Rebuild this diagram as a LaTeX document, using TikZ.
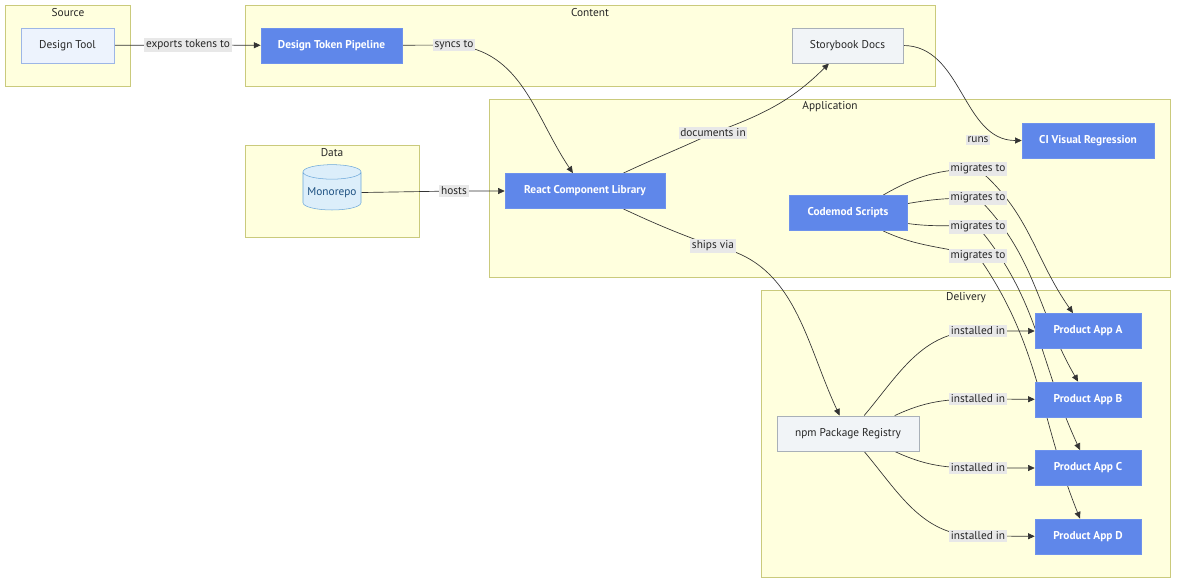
\documentclass[tikz,border=0pt]{standalone}
\usepackage{fontspec}
\setmainfont{PT Sans}
\usepackage{tikz}
\usetikzlibrary{shapes.geometric,arrows.meta}

\definecolor{clusterfill}{HTML}{FFFFDE}
\definecolor{clusterline}{HTML}{CACA7C}
\definecolor{bluefill}{HTML}{5F87EA}
\definecolor{blueline}{HTML}{6E92EC}
\definecolor{lightfill}{HTML}{EDF3FD}
\definecolor{lightline}{HTML}{9DB6E6}
\definecolor{greyfill}{HTML}{F1F4F7}
\definecolor{greyline}{HTML}{A9B0B8}
\definecolor{dbfill}{HTML}{DCEEFA}
\definecolor{dbline}{HTML}{6DA8DA}
\definecolor{dbtext}{HTML}{1B4F80}
\definecolor{labelbg}{HTML}{E8E8E8}
\definecolor{edgecol}{HTML}{333333}

\pgfdeclarelayer{back}
\pgfdeclarelayer{edges}
\pgfsetlayers{back,edges,main}

\begin{document}
\begin{tikzpicture}[x = 0.75pt, y = -0.75pt,
                    font = \fontsize{8.5}{10}\selectfont,
                    cluster/.style = {draw = clusterline, fill = clusterfill, line width = 0.6pt},
                    title/.style = {text = black!85},
                    bluebox/.style = {rectangle, draw = blueline, fill = bluefill, text = white,
                                      font = \fontsize{8.5}{10}\selectfont\bfseries, minimum height = 26.5pt},
                    lightbox/.style = {rectangle, draw = lightline, fill = lightfill, text = black!85, minimum height = 26.5pt},
                    greybox/.style = {rectangle, draw = greyline, fill = greyfill, text = black!85, minimum height = 26.5pt},
                    db/.style = {cylinder, shape border rotate = 90, aspect = 0.25, draw = dbline, fill = dbfill,
                                 text = dbtext, minimum width = 42pt, minimum height = 34pt},
                    lbl/.style = {fill = labelbg, text = black!85, inner sep = 1.3pt},
                    edge/.style = {draw = edgecol, line width = 0.5pt, -{Triangle[length = 5pt, width = 4.5pt]}}]

\useasboundingbox (0,0) rectangle (1184,587);

% clusters
\begin{pgfonlayer}{back}
\draw[cluster] (5,5) rectangle (130,86);
\draw[cluster] (245,5) rectangle (935,86);
\draw[cluster] (245,145) rectangle (419,237);
\draw[cluster] (489,99) rectangle (1170,277);
\draw[cluster] (761,290) rectangle (1170,577);
\end{pgfonlayer}

\node[title] (tSource) at (68,13) {Source};
\node[title] (tContent) at (590,13) {Content};
\node[title] (tData) at (332,153) {Data};
\node[title] (tApplication) at (830,107) {Application};
\node[title] (tDelivery) at (966,298) {Delivery};

% tools and docs
\node[lightbox, minimum width = 70pt] (tool) at (67.5,45.5) {Design Tool};
\node[bluebox, minimum width = 106pt] (pipe) at (331.5,45.5) {Design Token Pipeline};
\node[greybox, minimum width = 83pt] (story) at (847.5,45.5) {Storybook Docs};
\node[db] (repo) at (332,193) {Monorepo};

% application
\node[bluebox, minimum width = 120pt] (react) at (585,191) {React Component Library};
\node[bluebox, minimum width = 99pt] (ci) at (1088,140.5) {CI Visual Regression};
\node[bluebox, minimum width = 88.5pt] (cod) at (848,213) {Codemod Scripts};

% delivery
\node[greybox, minimum width = 106.5pt] (npm) at (848,433.5) {npm Package Registry};
\node[bluebox, minimum width = 79.5pt] (appA) at (1088,331) {Product App A};
\node[bluebox, minimum width = 79.5pt] (appB) at (1088,399.5) {Product App B};
\node[bluebox, minimum width = 79.5pt] (appC) at (1088,468) {Product App C};
\node[bluebox, minimum width = 79.5pt] (appD) at (1088,536.5) {Product App D};

% edge labels
\node[lbl] (exp) at (188,45) {exports tokens to};
\node[lbl] (syn) at (454,45) {syncs to};
\node[lbl] (hosts) at (454,191) {hosts};
\node[lbl] (doc) at (713,133) {documents in};
\node[lbl] (ship) at (713,246) {ships via};
\node[lbl] (runs) at (978,140) {runs};
\node[lbl] (m1) at (978,169) {migrates to};
\node[lbl] (m2) at (978,198) {migrates to};
\node[lbl] (m3) at (978,227) {migrates to};
\node[lbl] (m4) at (978,256) {migrates to};
\node[lbl] (i1) at (978,331) {installed in};
\node[lbl] (i2) at (978,399) {installed in};
\node[lbl] (i3) at (978,468) {installed in};
\node[lbl] (i4) at (978,536) {installed in};

\begin{pgfonlayer}{edges}
\draw[edge] (tool) -- (exp.center) -- (pipe);
\draw[edge] (pipe) -- (syn.center) to[out=-5, in=124] (react.124);
\draw[edge] (repo) -- (hosts.center) -- (react);
\draw[edge] (react.25) to[out=25, in=-155] (doc.center) to[out=20, in=-135] (story.224);
\draw[edge] (react.-25) to[out=-25, in=160] (ship.center) to[out=-10, in=115] (npm.115);
\draw[edge] (story) to[out=0, in=180] (ci);

% codemods
\draw[edge] (cod.27) to[out=30, in=180] (m1.center) to[out=-40, in=125] (appA.130);
\draw[edge] (cod.9) to[out=10, in=180] (m2.center) to[out=-45, in=120] (appB.119);
\draw[edge] (cod.-10) to[out=-8, in=175] (m3.center) to[out=-50, in=115] (appC.114);
\draw[edge] (cod.-27) to[out=-25, in=165] (m4.center) to[out=-55, in=112] (appD.114);

% installs
\draw[edge] (npm.48) to[out=50, in=180] (i1.center) -- (appA);
\draw[edge] (npm.21) to[out=25, in=180] (i2.center) -- (appB);
\draw[edge] (npm.-21) to[out=-25, in=180] (i3.center) -- (appC);
\draw[edge] (npm.-48) to[out=-50, in=180] (i4.center) -- (appD);
\end{pgfonlayer}

\end{tikzpicture}
\end{document}
